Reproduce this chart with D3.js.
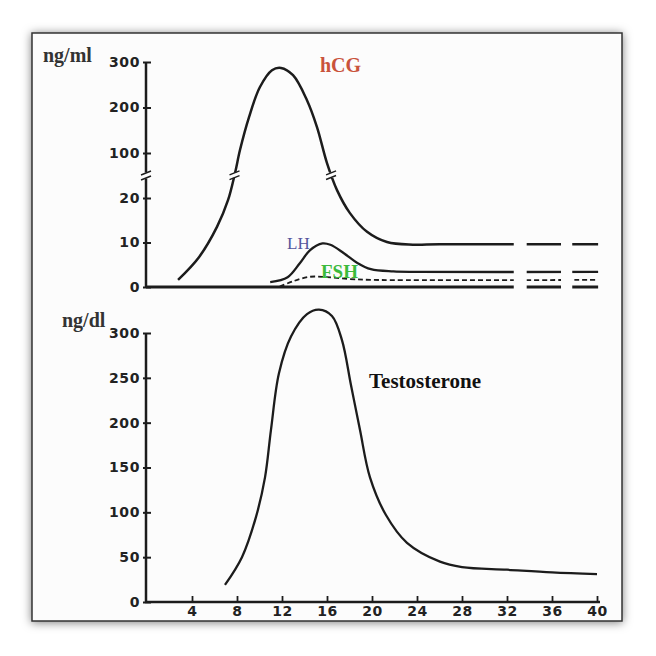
<!DOCTYPE html>
<html><head><meta charset="utf-8">
<script src="https://cdn.jsdelivr.net/npm/d3@7/dist/d3.min.js"></script>
<style>html,body{margin:0;padding:0;background:#fff;}svg{display:block;}</style>
</head><body>
<script>
// ---- data ----
const weekTicks = [4, 8, 12, 16, 20, 24, 28, 32, 36, 40];
const topTicks = [0, 10, 20, 100, 200, 300];
const bottomTicks = [0, 50, 100, 150, 200, 250, 300];

const hcgWeeks  = [2.76, 4.62, 6.22, 7.2, 7.82, 8.27, 9.07, 10.04, 11.11, 11.91, 12.98, 14.22, 15.11, 16.0, 16.89, 18.04, 19.56, 21.33, 23.64, 26, 40.1];
const hcgValues = [1.6, 6.7, 13.5, 19.5, 64, 107, 179, 245, 282, 287, 271, 216, 157, 82, 34, 16.6, 12.4, 10.1, 9.5, 9.6, 9.6];

const lhWeeks  = [10.95, 12.5, 13.6, 14.5, 15.6, 16.3, 17.5, 18.7, 19.9, 21.9, 24, 40.1];
const lhValues = [1.1, 2.2, 5.4, 8.3, 9.8, 9.5, 7.6, 5.4, 4.0, 3.5, 3.4, 3.4];

const fshWeeks  = [11.8, 13, 14.5, 16, 18, 20, 40.1];
const fshValues = [0.1, 1.3, 2.3, 2.2, 1.8, 1.6, 1.6];

const testoWeeks  = [6.93, 8.44, 9.69, 10.49, 11.02, 11.73, 12.8, 14.22, 15.29, 16.44, 17.33, 18.13, 18.93, 19.82, 21.24, 23.11, 26.04, 28, 32, 36, 40];
const testoValues = [19, 50, 95, 139, 192, 255, 296, 321, 326, 319, 292, 242, 192, 139, 97, 66, 45, 39, 36, 33, 31];

const topSegments = [[-0.2, 32.6], [33.75, 36.8], [37.8, 40.2]]; // visible segments (weeks)

// ---- layout ----
const W = 656, H = 656;
const svg = d3.select("body").append("svg").attr("width", W).attr("height", H);
const defs = svg.append("defs");
const f = defs.append("filter").attr("id", "sh").attr("x", "-10%").attr("y", "-10%").attr("width", "120%").attr("height", "120%");
f.append("feDropShadow").attr("dx", 0).attr("dy", 1).attr("stdDeviation", 5).attr("flood-color", "#000").attr("flood-opacity", 0.5);

svg.append("rect").attr("x", 32).attr("y", 33).attr("width", 590).attr("height", 588)
  .attr("fill", "#fcfcfc").attr("stroke", "#333").attr("stroke-width", 1.5).attr("filter", "url(#sh)");

const x = d3.scaleLinear().domain([0, 40]).range([147, 597]);
const yTop = d3.scaleLinear().domain([0, 20, 100, 300]).range([287, 198, 153, 62]);
const yBot = d3.scaleLinear().domain([0, 300]).range([602, 333]);

const ink = "#1c1c1c";
const tickFont = "'DejaVu Sans',sans-serif";
const serif = "'Liberation Serif','DejaVu Serif',serif";
const curve = d3.curveCatmullRom.alpha(0.5);

const clip = defs.append("clipPath").attr("id", "topclip");
topSegments.forEach(g => clip.append("rect").attr("x", x(g[0])).attr("y", 40).attr("width", x(g[1]) - x(g[0])).attr("height", 255));

function styleTicks(g) {
  g.select(".domain").remove();
  g.selectAll("text").attr("font-family", tickFont).attr("font-weight", "bold").attr("font-size", 14)
    .attr("letter-spacing", 0.6).attr("fill", "#222");
}

// ---- top panel ----
const topG = svg.append("g");
topG.append("line").attr("x1", 146).attr("x2", 146).attr("y1", yTop(300)).attr("y2", yTop(0) + 1)
  .attr("stroke", ink).attr("stroke-width", 2.5);
const gTop = topG.append("g").attr("transform", "translate(146,0)")
  .call(d3.axisLeft(yTop).tickValues(topTicks).tickSize(0).tickPadding(6));
styleTicks(gTop);
gTop.selectAll(".tick").append("line").attr("x1", -3).attr("x2", 5).attr("stroke", ink).attr("stroke-width", 2);

// axis break
const ab = yTop(60);
topG.append("rect").attr("x", 141).attr("y", ab - 3).attr("width", 10).attr("height", 6).attr("fill", "#fcfcfc");
[-2.5, 2.5].forEach(d => topG.append("line").attr("x1", 141).attr("x2", 151).attr("y1", ab + d + 2).attr("y2", ab + d - 2)
  .attr("stroke", ink).attr("stroke-width", 1.5));

const topClip = topG.append("g").attr("clip-path", "url(#topclip)");
topClip.append("line").attr("x1", 146).attr("x2", x(40.1)).attr("y1", yTop(0)).attr("y2", yTop(0))
  .attr("stroke", ink).attr("stroke-width", 2.8);

const lineTop = d3.line().x(d => x(d[0])).y(d => yTop(d[1])).curve(curve);
const hcg = d3.zip(hcgWeeks, hcgValues), lh = d3.zip(lhWeeks, lhValues), fsh = d3.zip(fshWeeks, fshValues);
const hcgPathSel = topClip.append("path").datum(hcg).attr("d", lineTop).attr("fill", "none").attr("stroke", ink).attr("stroke-width", 2.5);
topClip.append("path").datum(lh).attr("d", lineTop).attr("fill", "none").attr("stroke", ink).attr("stroke-width", 2.3);
topClip.append("path").datum(fsh).attr("d", lineTop).attr("fill", "none").attr("stroke", ink).attr("stroke-width", 1.8)
  .attr("stroke-dasharray", "5,3");

const hcgPath = hcgPathSel.node();
function breakMarkAt(week) {
  const L = hcgPath.getTotalLength();
  let best = null, bd = 1e9;
  for (let i = 0; i <= 800; i++) {
    const p = hcgPath.getPointAtLength(L * i / 800);
    const dd = Math.abs(p.y - ab) + (Math.abs(p.x - x(week)) > 25 ? 1e6 : 0);
    if (dd < bd) { bd = dd; best = p; }
  }
  topG.append("rect").attr("x", best.x - 5).attr("y", best.y - 2.5).attr("width", 10).attr("height", 5).attr("fill", "#fcfcfc");
  [-2.3, 2.3].forEach(d => topG.append("line").attr("x1", best.x - 5).attr("x2", best.x + 5)
    .attr("y1", best.y + d + 2).attr("y2", best.y + d - 2).attr("stroke", ink).attr("stroke-width", 1.4));
}
breakMarkAt(8.0);
breakMarkAt(16.2);

topG.append("text").attr("x", 43).attr("y", 62).text("ng/ml").attr("font-family", serif).attr("font-weight", "bold")
  .attr("font-size", 20).attr("fill", "#333");
topG.append("text").attr("x", 320).attr("y", 72).text("hCG").attr("font-family", serif).attr("font-weight", "bold")
  .attr("font-size", 20).attr("fill", "#c9533b");
topG.append("text").attr("x", 287).attr("y", 249).text("LH").attr("font-family", serif)
  .attr("font-size", 17).attr("fill", "#55559c");
topG.append("text").attr("x", 321).attr("y", 278).text("FSH").attr("font-family", serif).attr("font-weight", "bold")
  .attr("font-size", 19).attr("fill", "#3cba3c");

// ---- bottom panel ----
const botG = svg.append("g");
botG.append("line").attr("x1", 146).attr("x2", 146).attr("y1", yBot(300)).attr("y2", yBot(0) + 1)
  .attr("stroke", ink).attr("stroke-width", 2.5);
botG.append("line").attr("x1", 145).attr("x2", 600).attr("y1", yBot(0)).attr("y2", yBot(0))
  .attr("stroke", ink).attr("stroke-width", 2.5);
const gBy = botG.append("g").attr("transform", "translate(146,0)").call(d3.axisLeft(yBot).tickValues(bottomTicks).tickSize(0).tickPadding(6));
styleTicks(gBy);
gBy.selectAll(".tick").append("line").attr("x1", -3).attr("x2", 5).attr("stroke", ink).attr("stroke-width", 2);

const gBx = botG.append("g").attr("transform", `translate(0,${yBot(0)})`).call(d3.axisBottom(x).tickValues(weekTicks).tickSize(0).tickPadding(4));
styleTicks(gBx);
gBx.selectAll(".tick").append("line").attr("y1", -6).attr("y2", 0).attr("stroke", ink).attr("stroke-width", 1.8);

const lineBot = d3.line().x(d => x(d[0])).y(d => yBot(d[1])).curve(curve);
botG.append("path").datum(d3.zip(testoWeeks, testoValues)).attr("d", lineBot).attr("fill", "none")
  .attr("stroke", ink).attr("stroke-width", 2.3);

botG.append("text").attr("x", 62).attr("y", 327).text("ng/dl").attr("font-family", serif).attr("font-weight", "bold")
  .attr("font-size", 20).attr("fill", "#333");
botG.append("text").attr("x", 369).attr("y", 388).text("Testosterone").attr("font-family", serif).attr("font-weight", "bold")
  .attr("font-size", 21).attr("fill", "#111");
</script>
</body></html>
